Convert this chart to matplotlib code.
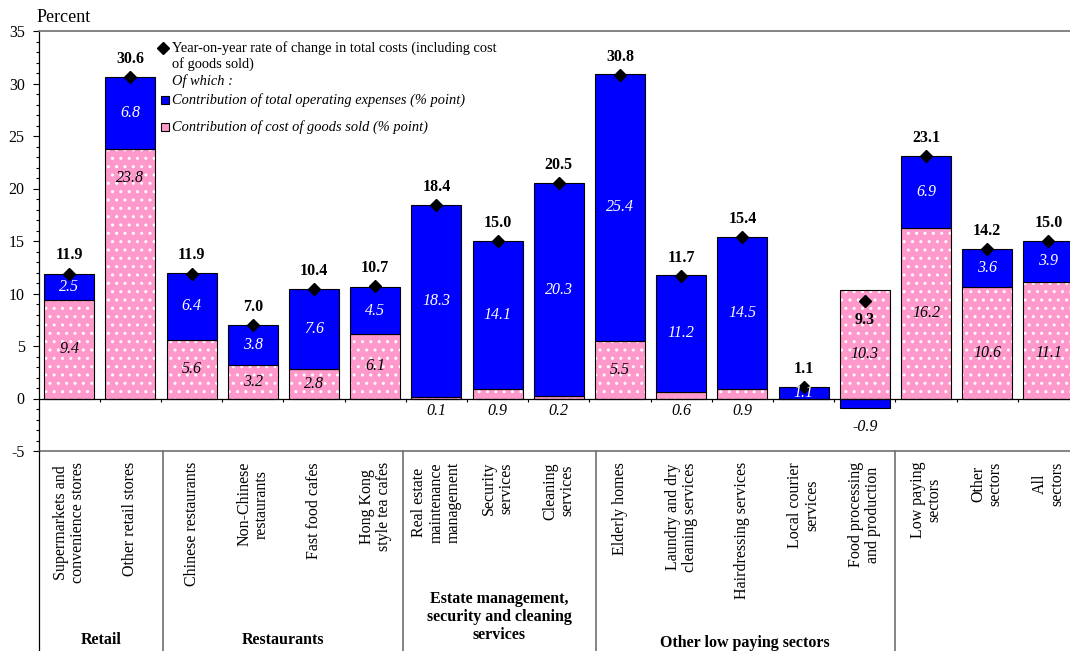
import matplotlib
matplotlib.use("Agg")
import matplotlib.pyplot as plt
import matplotlib.transforms as mtransforms
from matplotlib.patches import Rectangle
from matplotlib.lines import Line2D
from matplotlib.ticker import MultipleLocator
import numpy as np

plt.rcParams['font.family'] = ['Liberation Serif', 'DejaVu Serif']
plt.rcParams['axes.unicode_minus'] = False
plt.rcParams['hatch.linewidth'] = 1.0

# ---------------- data ----------------
categories = [
    "Supermarkets and\nconvenience stores",
    "Other retail stores",
    "Chinese restaurants",
    "Non-Chinese\nrestaurants",
    "Fast food cafes",
    "Hong Kong\nstyle tea cafes",
    "Real estate\nmaintenance\nmanagement",
    "Security\nservices",
    "Cleaning\nservices",
    "Elderly homes",
    "Laundry and dry\ncleaning services",
    "Hairdressing services",
    "Local courier\nservices",
    "Food processing\nand production",
    "Low paying\nsectors",
    "Other\nsectors",
    "All\nsectors",
]
total_change = [11.9, 30.6, 11.9, 7.0, 10.4, 10.7, 18.4, 15.0, 20.5, 30.8,
                11.7, 15.4, 1.1, 9.3, 23.1, 14.2, 15.0]
opex_contrib = [2.5, 6.8, 6.4, 3.8, 7.6, 4.5, 18.3, 14.1, 20.3, 25.4,
                11.2, 14.5, 1.1, -0.9, 6.9, 3.6, 3.9]
cogs_contrib = [9.4, 23.8, 5.6, 3.2, 2.8, 6.1, 0.1, 0.9, 0.2, 5.5,
                0.6, 0.9, 0.0, 10.3, 16.2, 10.6, 11.1]
groups = ["Retail", "Restaurants",
          "Estate management,\nsecurity and cleaning\nservices",
          "Other low paying sectors"]

# ---------------- layout / style ----------------
W, H = 1070, 651
BLUE = "#0000FF"
PINK = "#FF99CC"
GRAY = "#707070"
FS = 11.5

fig = plt.figure(figsize=(W / 100, H / 100), dpi=100)
ax_left, ax_right, ax_top, ax_bot = 38.6, 1079.0, 31.0, 451.0
ax = fig.add_axes([ax_left / W, 1 - ax_bot / H, (ax_right - ax_left) / W,
                   (ax_bot - ax_top) / H])

x = np.arange(len(categories))
bw = 0.82
cogs = np.array(cogs_contrib)
opex = np.array(opex_contrib)
tot = np.array(total_change)
opex_bottom = np.where(opex >= 0, cogs, 0.0)

# pink (cost of goods sold) with white dot pattern
ax.bar(x, cogs, bw, color=PINK, edgecolor="white", hatch="..", linewidth=0, zorder=2)
ax.bar(x, cogs, bw, fill=False, edgecolor="black", linewidth=0.8, zorder=3)
# blue (operating expenses)
ax.bar(x, opex, bw, bottom=opex_bottom, color=BLUE, edgecolor="black",
       linewidth=0.8, zorder=3)

# total markers
ax.plot(x, tot, linestyle="none", marker="D", color="black", markersize=6.5, zorder=6)

# zero line and boundary ticks
ax.axhline(0, color="black", linewidth=0.9, zorder=5)
ax.vlines(np.arange(len(categories) - 1) + 0.5, -0.38, 0, color="black",
          linewidth=0.8, zorder=5)

ax.set_xlim(-0.5, len(categories) - 0.5)
ax.set_ylim(-5, 35)
ax.set_xticks([])
ax.yaxis.set_major_locator(MultipleLocator(5))
ax.yaxis.set_minor_locator(MultipleLocator(1))
ax.tick_params(axis="y", which="major", direction="out", length=4, width=0.8,
               labelsize=FS, pad=6)
ax.tick_params(axis="y", which="minor", direction="out", length=2.5, width=0.8)
for s in ["top", "bottom"]:
    ax.spines[s].set_color(GRAY)
    ax.spines[s].set_linewidth(1.2)
ax.spines["right"].set_visible(False)
ax.spines["left"].set_color("black")
ax.spines["left"].set_linewidth(0.9)

# ---------------- value labels ----------------
cogs_label_override = {1: 21.0, 13: 4.2, 15: 4.35, 16: 4.35}
for i in range(len(categories)):
    # total labels
    if tot[i] < cogs[i] and opex[i] < 0:
        ax.annotate(f"{tot[i]:.1f}", (x[i], tot[i]), xytext=(0, -14),
                    textcoords="offset points", ha="center", va="center",
                    fontsize=FS, fontweight="bold", zorder=7)
    else:
        ax.annotate(f"{tot[i]:.1f}", (x[i], tot[i]), xytext=(0, 13),
                    textcoords="offset points", ha="center", va="center",
                    fontsize=FS, fontweight="bold", zorder=7)
    # opex labels
    if opex[i] >= 0:
        ax.text(x[i], opex_bottom[i] + opex[i] / 2, f"{opex[i]:.1f}", ha="center",
                va="center", color="white", fontsize=FS, fontstyle="italic", zorder=7)
    else:
        ax.annotate(f"{opex[i]:.1f}", (x[i], opex[i]), xytext=(0, -14),
                    textcoords="offset points", ha="center", va="center",
                    fontsize=FS, fontstyle="italic", zorder=7)
    # cogs labels
    if cogs[i] <= 0:
        continue
    if cogs[i] < 1.5:
        ax.text(x[i], -1.15, f"{cogs[i]:.1f}", ha="center", va="center",
                fontsize=FS, fontstyle="italic", zorder=7)
    else:
        yy = cogs_label_override.get(i, cogs[i] / 2)
        ax.text(x[i], yy, f"{cogs[i]:.1f}", ha="center", va="center",
                fontsize=FS, fontstyle="italic", zorder=7)

# ---------------- category area ----------------
bt = mtransforms.blended_transform_factory(ax.transData, fig.transFigure)
for i, lab in enumerate(categories):
    ax.text(x[i], 1 - 462 / H, lab, rotation=90, ha="center", va="top",
            multialignment="center", linespacing=1.08, fontsize=FS,
            transform=bt, clip_on=False)

group_edges = [1.53, 5.45, 8.6, 13.49]
for gx in group_edges:
    fig.add_artist(Line2D([gx, gx], [1 - ax_bot / H, 0], transform=bt,
                          color=GRAY, linewidth=1.2))
fig.add_artist(Line2D([-0.5, -0.5], [1 - ax_bot / H, 0], transform=bt,
                      color="black", linewidth=0.9))

bounds = [-0.5] + group_edges
group_y = [1 - 640 / H, 1 - 640 / H, 1 - 617 / H, 1 - 643 / H]
for gi, g in enumerate(groups):
    cx = (bounds[gi] + bounds[gi + 1]) / 2
    ax.text(cx, group_y[gi], g, ha="center", va="center", fontsize=FS,
            fontweight="bold", multialignment="center", linespacing=1.18,
            transform=bt, clip_on=False)

# ---------------- axis title ----------------
fig.text(37 / W, 1 - 18 / H, "Percent", ha="left", va="center", fontsize=13)

# ---------------- legend ----------------
LFS = 10.4
ft = fig.transFigure
fig.add_artist(Line2D([163 / W], [1 - 48 / H], marker="D", color="black",
                      markersize=6, linestyle="none", transform=ft))
fig.text(172 / W, 1 - 48 / H, "Year-on-year rate of change in total costs (including cost",
         ha="left", va="center", fontsize=LFS)
fig.text(172 / W, 1 - 64 / H, "of goods sold)", ha="left", va="center", fontsize=LFS)
fig.text(172 / W, 1 - 81 / H, "Of which :", ha="left", va="center", fontsize=LFS,
         fontstyle="italic")
fig.add_artist(Rectangle((160.5 / W, 1 - 104 / H), 8 / W, 8 / H, transform=ft,
                         facecolor=BLUE, edgecolor="black", linewidth=0.8))
fig.text(172 / W, 1 - 100 / H, "Contribution of total operating expenses (% point)",
         ha="left", va="center", fontsize=LFS, fontstyle="italic")
fig.add_artist(Rectangle((160.5 / W, 1 - 131 / H), 8 / W, 8 / H, transform=ft,
                         facecolor=PINK, edgecolor="black", linewidth=0.8))
fig.text(172 / W, 1 - 127 / H, "Contribution of cost of goods sold (% point)",
         ha="left", va="center", fontsize=LFS, fontstyle="italic")

fig.savefig("out.png", dpi=100)
